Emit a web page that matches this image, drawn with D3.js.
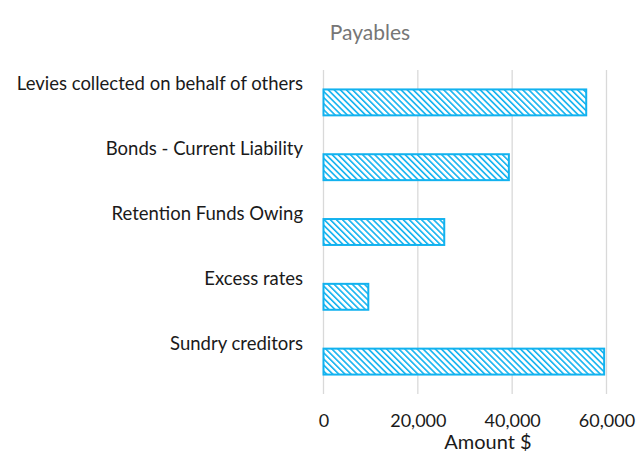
<!DOCTYPE html>
<html><head><meta charset="utf-8">
<script src="https://cdn.jsdelivr.net/npm/d3@7"></script>
<style>body{margin:0;background:#fff}svg{display:block}</style>
</head><body>
<script>
const categories = ["Levies collected on behalf of others","Bonds - Current Liability","Retention Funds Owing","Excess rates","Sundry creditors"];
const values = [55700, 39300, 25600, 9500, 59500];
const tickValues = [0, 20000, 40000, 60000];
const title = "Payables";
const xTitle = "Amount $";

const W = 637, H = 459;
const mLeft = 323.5, mRight = 606.5, mTop = 70, mBottom = 394;
const svg = d3.select("body").append("svg").attr("width", W).attr("height", H);
const font = "Lato, 'Open Sans', sans-serif";

const defs = svg.append("defs");
const pat = defs.append("pattern").attr("id","hatch").attr("patternUnits","userSpaceOnUse")
  .attr("width",4.3).attr("height",4.3).attr("patternTransform","rotate(-45)");
pat.append("rect").attr("width",4.3).attr("height",4.3).attr("fill","#fff");
pat.append("rect").attr("x",0).attr("y",0).attr("width",1.6).attr("height",4.3).attr("fill","#12b2ef");

const x = d3.scaleLinear().domain([0,60000]).range([mLeft,mRight]);
const y = d3.scaleBand().domain(categories).range([mTop,mBottom]).paddingInner(0.6).paddingOuter(0.3);

svg.append("text").attr("x",370).attr("y",40).attr("text-anchor","middle")
  .attr("font-family",font).attr("font-size",21).attr("fill","#767676").text(title);

// gridlines
svg.append("g").selectAll("line").data(tickValues).join("line")
  .attr("x1",d=>x(d)).attr("x2",d=>x(d)).attr("y1",mTop).attr("y2",mBottom)
  .attr("stroke","#d9d9d9").attr("stroke-width",1.3);

// x axis
const xAxis = d3.axisBottom(x).tickValues(tickValues).tickFormat(d3.format(",")).tickSize(0).tickPadding(0);
const gx = svg.append("g").attr("transform",`translate(0,${mBottom})`).call(xAxis);
gx.select(".domain").remove();
gx.selectAll("text").attr("font-family",font).attr("font-size",18).attr("fill","#1a1a1a").attr("dy",0).attr("y",33);

svg.append("text").attr("x",488).attr("y",449).attr("text-anchor","middle")
  .attr("font-family",font).attr("font-size",20).attr("fill","#1a1a1a").text(xTitle);

// bars
svg.append("g").selectAll("rect").data(categories).join("rect")
  .attr("x",x(0)).attr("y",d=>y(d))
  .attr("width",(d,i)=>x(values[i])-x(0)).attr("height",y.bandwidth())
  .attr("fill","url(#hatch)").attr("stroke","#12b2ef").attr("stroke-width",2);

// category labels
svg.append("g").selectAll("text").data(categories).join("text")
  .attr("x",303).attr("y",d=>y(d)+1).attr("text-anchor","end")
  .attr("font-family",font).attr("font-size",18.5).attr("fill","#1a1a1a").text(d=>d);
</script>
</body></html>
